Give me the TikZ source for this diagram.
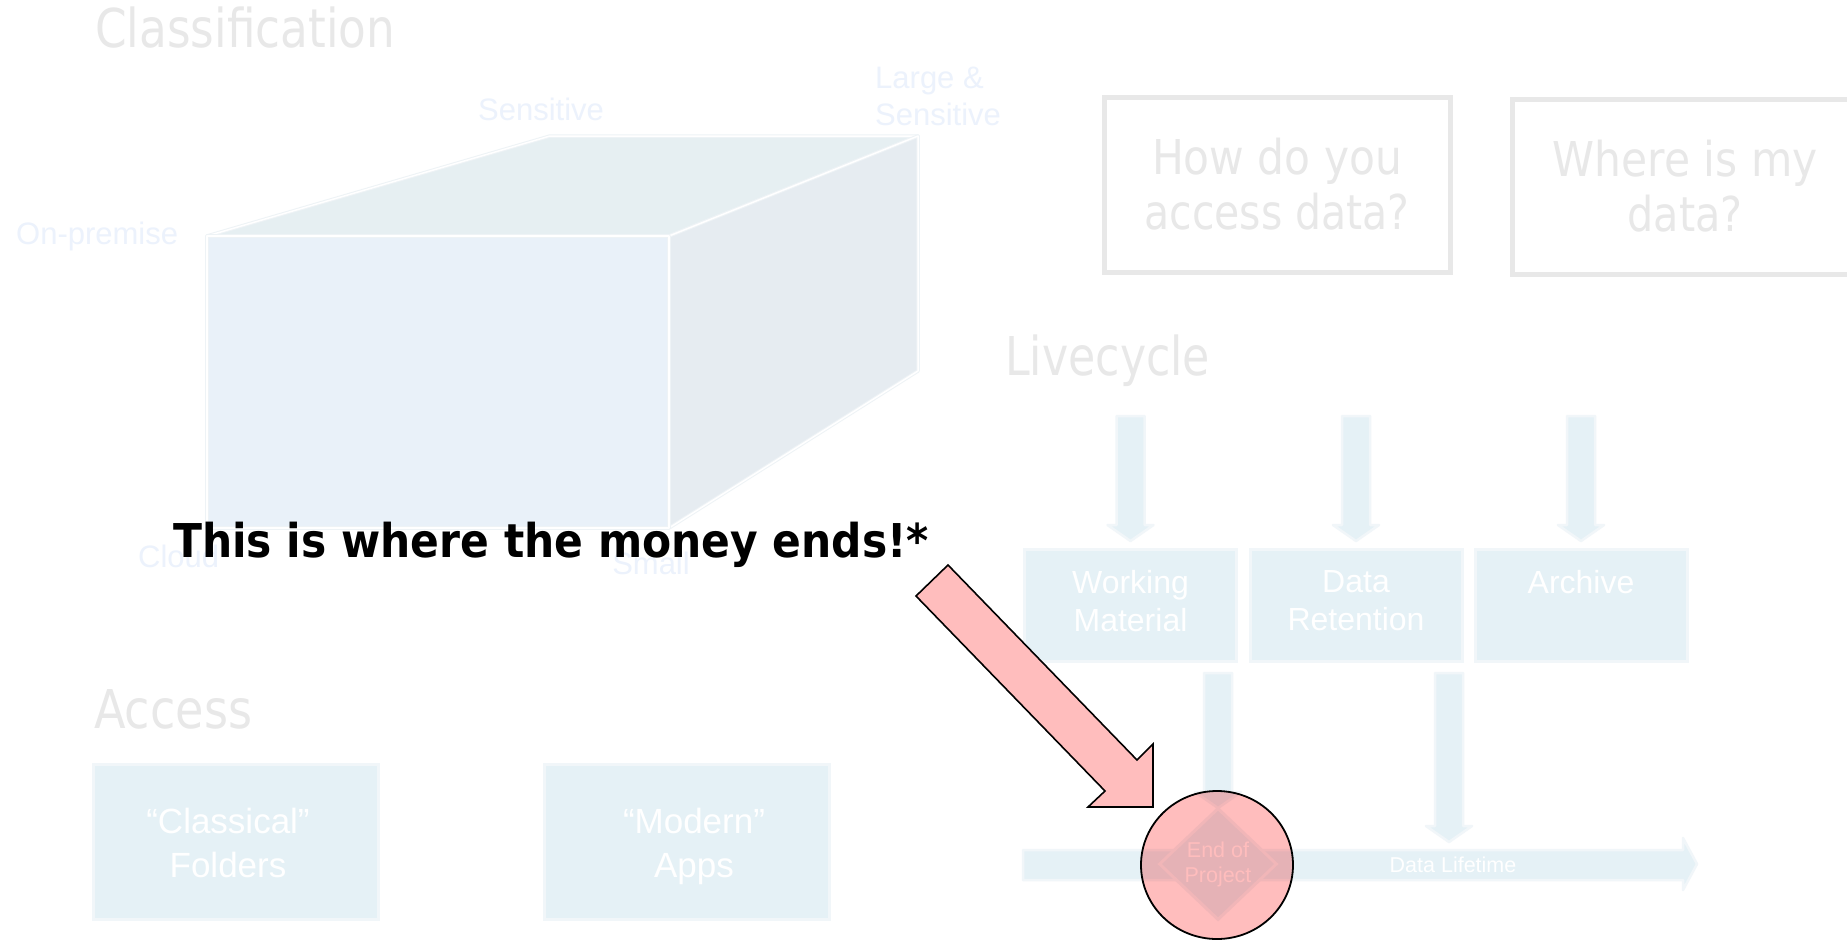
\documentclass[tikz,border=0pt]{standalone}
\usepackage{fontspec}
\setmainfont{Liberation Sans}
\newfontfamily\tahoma{DejaVu Sans}
\usepackage{graphicx}
\usetikzlibrary{shapes.geometric,calc}

\definecolor{titlegray}{HTML}{E8E8E8}
\definecolor{paleblue}{HTML}{E5F1F6}
\definecolor{paleedge}{HTML}{F1F6F9}
\definecolor{cubefront}{HTML}{E9F1F9}
\definecolor{cubetop}{HTML}{E6EFF2}
\definecolor{cubeside}{HTML}{E6ECF1}
\definecolor{cubeedge}{HTML}{EEF3F6}
\definecolor{cubelabel}{HTML}{ECF2FC}
\definecolor{alertpink}{HTML}{FFBDBD}

% squeeze a line to a given width, keeping its height
\newcommand{\fitw}[2]{\resizebox{#1pt}{\height}{#2}}
% vertical block arrow: centre x, top y, tip y
\newcommand{\blockdown}[3]{%
  \filldraw[blockarrow] (#1-14,#2) -- (#1+14,#2) -- (#1+14,#3-16) -- (#1+23,#3-16)
    -- (#1,#3) -- (#1-23,#3-16) -- (#1-14,#3-16) -- cycle;}

\begin{document}
\begin{tikzpicture}[x=1pt,y=-1pt,
  title/.style={text=titlegray, font=\tahoma\fontsize{53.5}{60}\selectfont, inner sep=0, anchor=base west},
  cubelbl/.style={text=cubelabel, font=\fontsize{31}{37}\selectfont, inner sep=0, align=left},
  cubeface/.style={draw=cubeedge, double=white, double distance=1.5pt, line width=1pt, line join=round},
  qbox/.style={draw=titlegray, line width=5, minimum width=346, minimum height=175, inner sep=0,
    text=titlegray, align=center, font=\tahoma\fontsize{48}{55}\selectfont},
  stagebox/.style={fill=paleblue, draw=paleedge, line width=3, minimum width=212, minimum height=112, inner sep=0},
  stagetext/.style={text=white, font=\fontsize{32}{38}\selectfont, align=center, inner sep=0, anchor=north},
  accessbox/.style={fill=paleblue, draw=paleedge, line width=3, minimum width=285, minimum height=155, inner sep=0},
  accesstext/.style={text=white, font=\fontsize{35}{44}\selectfont, align=center, inner sep=0, anchor=north},
  blockarrow/.style={fill=paleblue, draw=paleedge, line width=2.5, line join=round},
]
\useasboundingbox (0,0) rectangle (1847,940);
\fill[white] (0,0) rectangle (1847,940);

% ---------- Classification ----------
\node[title] (classif) at (95,47) {\fitw{300}{Classification}};

\coordinate (ftl) at (207,236);
\coordinate (ftr) at (669,236);
\coordinate (fbr) at (669,528);
\coordinate (btl) at (550,136);
\coordinate (btr) at (918,136);
\coordinate (bbr) at (918,371);
\filldraw[cubeface, fill=cubetop] (ftl) -- (btl) -- (btr) -- (ftr) -- cycle;
\filldraw[cubeface, fill=cubeside] (ftr) -- (btr) -- (bbr) -- (fbr) -- cycle;
\filldraw[cubeface, fill=cubefront] (ftl) rectangle (fbr);

\node[cubelbl, anchor=base west] (onprem) at (16,244) {On-premise};
\node[cubelbl, anchor=base] (sens) at (541,120) {Sensitive};
\node[cubelbl, anchor=north west] (largesens) at (875,67) {Large \&\\Sensitive};
\node[cubelbl, anchor=base west] (cloud) at (138,567) {Cloud};
\node[cubelbl, anchor=base] (small) at (651,574) {Small};

% ---------- Questions ----------
\node[qbox] (howq) at (1277,184.5) {\fitw{250}{How do you}\\\fitw{265}{access data?}};
\node[qbox] (whereq) at (1685,186.5) {\fitw{265}{Where is my}\\\fitw{115}{data?}};

% ---------- Livecycle ----------
\node[title] (lifecycle) at (1005,375) {\fitw{205}{Livecycle}};

\blockdown{1130.5}{416}{541}
\blockdown{1356}{416}{541}
\blockdown{1581}{416}{541}

\node[stagebox] (work) at (1130.5,605.5) {};
\node[stagebox] (reten) at (1356,605.5) {};
\node[stagebox] (arch) at (1581,605.5) {};
\node[stagetext] (workt) at (1130.5,570) {Working\\Material};
\node[stagetext] (retent) at (1356,570) {Data\\Retention};
\node[stagetext] (archt) at (1581,570) {Archive};

\blockdown{1218}{673}{808}
\blockdown{1449}{673}{842}

% data lifetime axis
\filldraw[blockarrow] (1023,850) -- (1683,850) -- (1683,838) -- (1697,864) -- (1683,890)
  -- (1683,880) -- (1023,880) -- cycle;
\node[text=white, font=\fontsize{21.5}{25}\selectfont, inner sep=0] (lifetime) at (1453,865) {Data Lifetime};

\node[diamond, aspect=1.05, fill=paleblue, draw=paleedge, line width=3, minimum width=118, minimum height=112,
  inner sep=0, text=white, font=\fontsize{21.5}{25}\selectfont, align=center] (eop) at (1218,864) {End of\\Project};

% ---------- Access ----------
\node[title] (access) at (94,728) {\fitw{158}{Access}};
\node[accessbox] (classical) at (236,842) {};
\node[accessbox] (modern) at (687,842) {};
\node[accesstext] (classicalt) at (228,808) {“Classical”\\Folders};
\node[accesstext] (modernt) at (694,808) {“Modern”\\Apps};

% ---------- Highlight ----------
\node[anchor=base west, inner sep=0, font=\tahoma\bfseries\fontsize{46.6}{50}\selectfont] (money)
  at (173,557) {\fitw{756}{This is where the money ends!*}};

\filldraw[fill=alertpink, draw=black, line width=1.6, line join=miter]
  (948,565) -- (1137,760) -- (1153,744) -- (1153,807) -- (1088,807) -- (1105,791) -- (916,596) -- cycle;

\begin{scope}[blend mode=multiply]
  \node[ellipse, fill=alertpink, minimum width=152, minimum height=148, inner sep=0] (spot) at (1217,865) {};
\end{scope}
\draw[line width=1.8] (spot.center) ellipse [x radius=76, y radius=74];
\end{tikzpicture}
\end{document}
